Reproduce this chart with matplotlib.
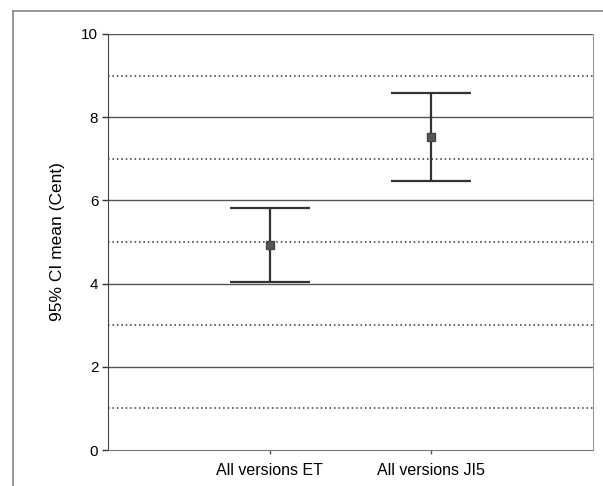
import numpy as np
import matplotlib.pyplot as plt
from matplotlib.lines import Line2D

plt.rcParams['font.family'] = ['Liberation Sans', 'DejaVu Sans']

# data
groups = ["All versions ET", "All versions JI5"]
ci_mean = [4.92, 7.53]
ci_low = [4.03, 6.46]
ci_high = [5.82, 8.58]

fig = plt.figure(figsize=(6.03, 4.86), dpi=100)
ax = fig.add_axes([108/603, 36/486, 485/603, 416/486])

# gridlines: solid on even, dotted on odd
for yv in range(1, 11):
    if yv % 2 == 0:
        ax.axhline(yv, color='#555555', lw=1.0, zorder=1)
    else:
        ax.axhline(yv, color='#333333', lw=1.1, ls=(0, (1.0, 1.9)), zorder=1)

x = np.arange(1, len(groups) + 1)
mean = np.array(ci_mean)
yerr = [mean - np.array(ci_low), np.array(ci_high) - mean]
ax.errorbar(x, mean, yerr=yerr, fmt='s', color='#333333', ecolor='#333333',
            ms=5.5, mfc='#555555', mec='#444444', elinewidth=1.6,
            capsize=29, capthick=1.6, zorder=3)

ax.set_xlim(0, 3)
ax.set_ylim(0, 10)
ax.set_yticks(range(0, 11, 2))
ax.set_xticks(x)
ax.set_xticklabels(groups, fontsize=11.5)
ax.tick_params(axis='y', labelsize=11, length=4, width=1, color='#333333', pad=3)
ax.tick_params(axis='x', length=3, width=1, color='#555555', pad=6)
ax.set_ylabel("95% CI mean (Cent)", fontsize=12.5, labelpad=12)

ax.spines['left'].set_color('#444444')
ax.spines['bottom'].set_color('#777777')
ax.spines['right'].set_color('#999999')
ax.spines['top'].set_visible(False)

# outer chart frame (left and top edges)
fig.add_artist(Line2D([13/603, 13/603], [0, 1 - 11/486], color='#888888', lw=1.2))
fig.add_artist(Line2D([13/603, 1], [1 - 11/486, 1 - 11/486], color='#888888', lw=1.2))

fig.savefig("out.png", dpi=100)
